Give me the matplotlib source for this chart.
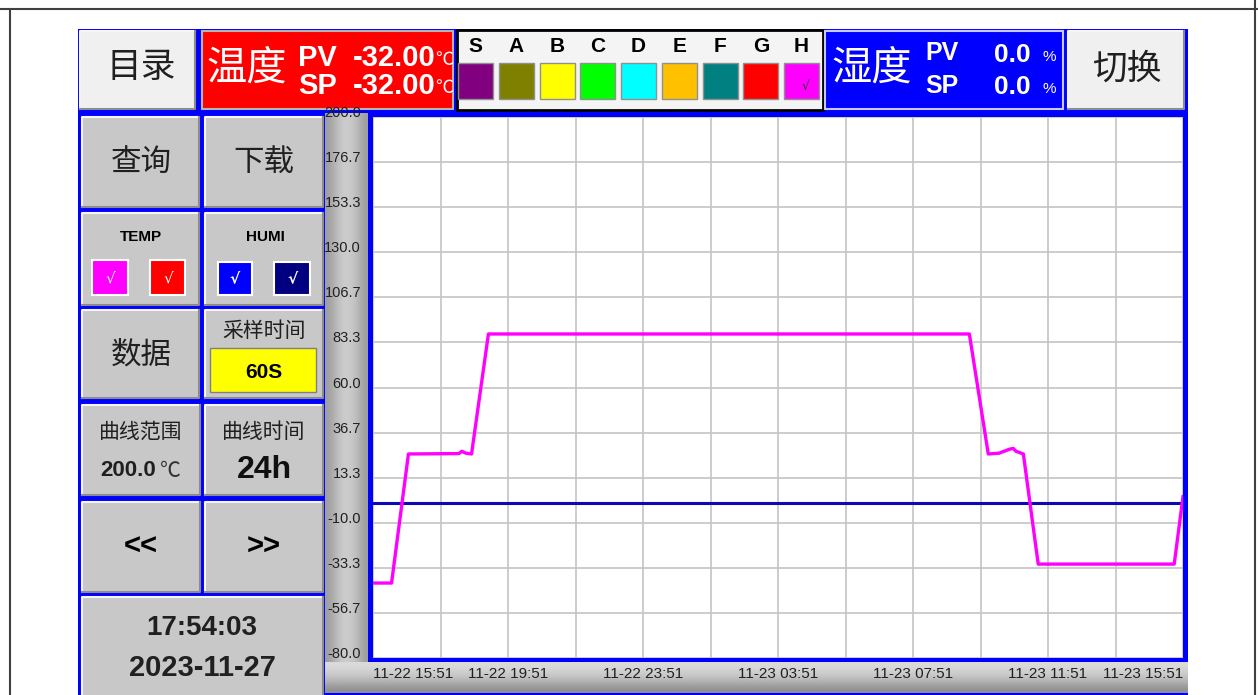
import numpy as np
import matplotlib
matplotlib.use("Agg")
import matplotlib.pyplot as plt
from matplotlib.patches import Rectangle
from matplotlib import transforms

# trend data (hours after 11-22 15:51)
temp_hours = [0.0, 0.55, 1.05, 2.55, 2.63, 2.75, 2.92, 3.42, 17.67, 18.23, 18.55, 18.85, 18.97, 19.05, 19.27, 19.71, 23.74, 24.0]
temp_values = [-41.2, -41.2, 25.6, 25.8, 27.0, 26.0, 25.6, 87.7, 87.7, 25.6, 26.0, 28.0, 28.5, 27.0, 25.6, -31.4, -31.4, 3.5]
humi_hours = [0.0, 24.0]
humi_values = [0.0, 0.0]

y_ticks = [-80.0, -56.7, -33.3, -10.0, 13.3, 36.7, 60.0, 83.3, 106.7, 130.0, 153.3, 176.7, 200.0]
x_grid_hours = [0, 2, 4, 6, 8, 10, 12, 14, 16, 18, 20, 22, 24]
x_tick_hours = [0, 4, 8, 12, 16, 20, 24]
x_tick_labels = ['11-22 15:51', '11-22 19:51', '11-22 23:51', '11-23 03:51',
                 '11-23 07:51', '11-23 11:51', '11-23 15:51']

channel_names = ['S', 'A', 'B', 'C', 'D', 'E', 'F', 'G', 'H']
channel_colors = ['#800080', '#808000', '#FFFF00', '#00FF00', '#00FFFF',
                  '#FFC000', '#008080', '#FF0000', '#FF00FF']

temp_pv, temp_sp = '-32.00', '-32.00'
humi_pv, humi_sp = '0.0', '0.0'
clock_time, clock_date = '17:54:03', '2023-11-27'
sample_time, curve_range, curve_span = '60S', '200.0', '24h'

CJK = ['Noto Sans CJK SC', 'DejaVu Sans']
SANS = ['Liberation Sans', 'DejaVu Sans']

W, H = 1258, 695
fig = plt.figure(figsize=(W / 100, H / 100), dpi=100)
fig.patch.set_facecolor('white')

# background axes in screen pixels for the HMI panel
bg = fig.add_axes([0, 0, 1, 1])


def rect(x0, y0, x1, y1, face, edge='none', lw=0.0, z=1):
    bg.add_patch(Rectangle((x0, y0), x1 - x0, y1 - y0, facecolor=face,
                           edgecolor=edge, linewidth=lw, zorder=z))


def button(x0, y0, x1, y1, face='#C8C8C8'):
    rect(x0, y0, x1, y1, face, z=2)
    bg.plot([x0, x0, x1], [y1, y0, y0], color='#F6F6F6', lw=1.5, zorder=3)
    bg.plot([x0, x1, x1], [y1, y1, y0], color='#8C8C8C', lw=1.5, zorder=3)


def txt(x, y, s, size, family=CJK, weight='normal', color='black', ha='center'):
    bg.text(x, y, s, fontsize=size, family=family, fontweight=weight,
            color=color, ha=ha, va='center', zorder=5)


# outer frame lines
bg.plot([0, W], [9, 9], color='#404040', lw=1.5)
bg.plot([10, 10], [9, H], color='#404040', lw=1.5)
bg.plot([1255, 1255], [0, H], color='#404040', lw=1.5)

# blue panel background
rect(78, 29, 1188, H, '#0000FF')

# top row
button(80, 31, 195, 109, face='#F0F0F0')
txt(141, 68, '目录', 25, color='#202020')
rect(202, 31, 453, 109, '#FF0000', edge='#B4B4B4', lw=1.5, z=2)
txt(247, 68, '温度', 29, color='white')
txt(298, 58, 'PV', 21, family=SANS, weight='bold', color='white', ha='left')
txt(298, 86, 'SP', 21, family=SANS, weight='bold', color='white', ha='left')
txt(436, 58, temp_pv, 21, family=SANS, weight='bold', color='white', ha='right')
txt(436, 86, temp_sp, 21, family=SANS, weight='bold', color='white', ha='right')
txt(444, 60, '℃', 13, color='white')
txt(444, 88, '℃', 13, color='white')

rect(457, 30, 823, 110, '#F4F4F4', edge='black', lw=2, z=2)
for i, (name, col) in enumerate(zip(channel_names, channel_colors)):
    x0 = 458 + i * 40.75
    rect(x0, 63, x0 + 35, 99, col, edge='#909090', lw=1, z=3)
    txt(x0 + 17.5, 46, name, 15, family=SANS, weight='bold')
txt(458 + 8 * 40.75 + 22, 86, '√', 9, family=['DejaVu Sans'], color='#303030')

rect(825, 31, 1063, 109, '#0000FF', edge='#C8C8F0', lw=1.5, z=2)
txt(872, 68, '湿度', 29, color='white')
txt(925, 53, 'PV', 18, family=SANS, weight='bold', color='white', ha='left')
txt(925, 86, 'SP', 18, family=SANS, weight='bold', color='white', ha='left')
txt(1031, 55, humi_pv, 19, family=SANS, weight='bold', color='white', ha='right')
txt(1031, 87, humi_sp, 19, family=SANS, weight='bold', color='white', ha='right')
txt(1049, 57, '%', 11, family=SANS, color='white')
txt(1049, 89, '%', 11, family=SANS, color='white')

button(1068, 31, 1184, 109, face='#F0F0F0')
txt(1127, 69, '切换', 25, color='#202020')

# left column buttons
button(82, 117, 199, 207)
txt(141, 162, '查询', 22, color='#202020')
button(205, 117, 323, 207)
txt(264, 162, '下载', 22, color='#202020')

button(82, 213, 199, 305)
txt(141, 237, 'TEMP', 11, family=SANS, weight='bold')
rect(92, 260, 128, 295, '#FF00FF', edge='white', lw=1.5, z=3)
rect(150, 260, 185, 295, '#FF0000', edge='white', lw=1.5, z=3)
txt(110, 278, '√', 11, family=['DejaVu Sans'], color='white')
txt(168, 278, '√', 11, family=['DejaVu Sans'], color='white')
button(205, 213, 323, 305)
txt(265, 237, 'HUMI', 11, family=SANS, weight='bold')
rect(218, 262, 252, 295, '#0000FF', edge='white', lw=1.5, z=3)
rect(274, 262, 310, 295, '#000080', edge='white', lw=1.5, z=3)
txt(235, 279, '√', 11, family=['DejaVu Sans'], weight='bold', color='white')
txt(292, 279, '√', 11, family=['DejaVu Sans'], weight='bold', color='white')

button(82, 310, 199, 398)
txt(141, 355, '数据', 22, color='#202020')
button(205, 310, 323, 398)
txt(264, 331, '采样时间', 15, color='#202020')
rect(210, 348, 316, 392, '#FFFF00', edge='#808080', lw=1, z=3)
txt(264, 372, sample_time, 15, family=SANS, weight='bold')

button(82, 405, 200, 495)
txt(141, 432, '曲线范围', 15, color='#202020')
txt(128, 470, curve_range, 16, family=SANS, weight='bold', color='#202020')
txt(170, 471, '℃', 15, color='#303030')
button(205, 405, 323, 495)
txt(264, 432, '曲线时间', 15, color='#202020')
txt(264, 470, curve_span, 23, family=SANS, weight='bold', color='#101010')

button(82, 502, 200, 592)
txt(141, 547, '<<', 21, family=SANS, weight='bold')
button(205, 502, 323, 592)
txt(264, 547, '>>', 21, family=SANS, weight='bold')

button(82, 597, 323, 700)
txt(202, 628, clock_time, 20, family=SANS, weight='bold', color='#202020')
txt(202, 668, clock_date, 21, family=SANS, weight='bold', color='#202020')

# gray scale bands around the trend area
band_y = np.array([0.62, 0.72, 0.80, 0.80, 0.74, 0.62])
bg.imshow(np.repeat(np.repeat(band_y[None, :, None], 3, axis=2), 2, axis=0),
          extent=(325, 368, 662, 113), aspect='auto', interpolation='bicubic', zorder=2)
band_x = np.array([0.86, 0.82, 0.76, 0.66, 0.56])
bg.imshow(np.repeat(np.repeat(band_x[:, None, None], 3, axis=2), 2, axis=1),
          extent=(325, 1188, 693, 662), aspect='auto', interpolation='bicubic', zorder=2)

bg.set_xlim(0, W)
bg.set_ylim(H, 0)
bg.axis('off')

# trend chart
ax = fig.add_axes([373 / W, 1 - 658 / H, 810 / W, 541 / H])
ax.set_facecolor('white')
ax.set_xlim(0, 24)
ax.set_ylim(-80, 200)
for h in x_grid_hours:
    ax.axvline(h, color='#C4C4C4', lw=1.2, zorder=1)
for v in y_ticks:
    ax.axhline(v, color='#C4C4C4', lw=1.2, zorder=1)
ax.plot(humi_hours, humi_values, color='#0A0AB4', lw=2.2, zorder=3)
ax.plot(temp_hours, temp_values, color='#FF00FF', lw=2.4, zorder=4)
ax.set_xticks([])
ax.set_yticks([])
for s in ax.spines.values():
    s.set_visible(False)

# y labels sit in the left band, a little above their grid line
ylab = transforms.offset_copy(transforms.blended_transform_factory(ax.transAxes, ax.transData),
                              fig=fig, x=-12, y=4, units='dots')
for v in y_ticks:
    ax.text(0, v, f'{v:.1f}', transform=ylab, ha='right', va='center',
            fontsize=10.5, family=SANS, color='#202020', clip_on=False)

# x labels in the bottom band
xlab = transforms.offset_copy(transforms.blended_transform_factory(ax.transData, ax.transAxes),
                              fig=fig, x=0, y=-16, units='dots')
for i, (h, s) in enumerate(zip(x_tick_hours, x_tick_labels)):
    ha = 'left' if i == 0 else ('right' if i == len(x_tick_hours) - 1 else 'center')
    ax.text(h, 0, s, transform=xlab, ha=ha, va='center', fontsize=11,
            family=SANS, color='#202020', clip_on=False)

fig.savefig('out.png', dpi=100)
